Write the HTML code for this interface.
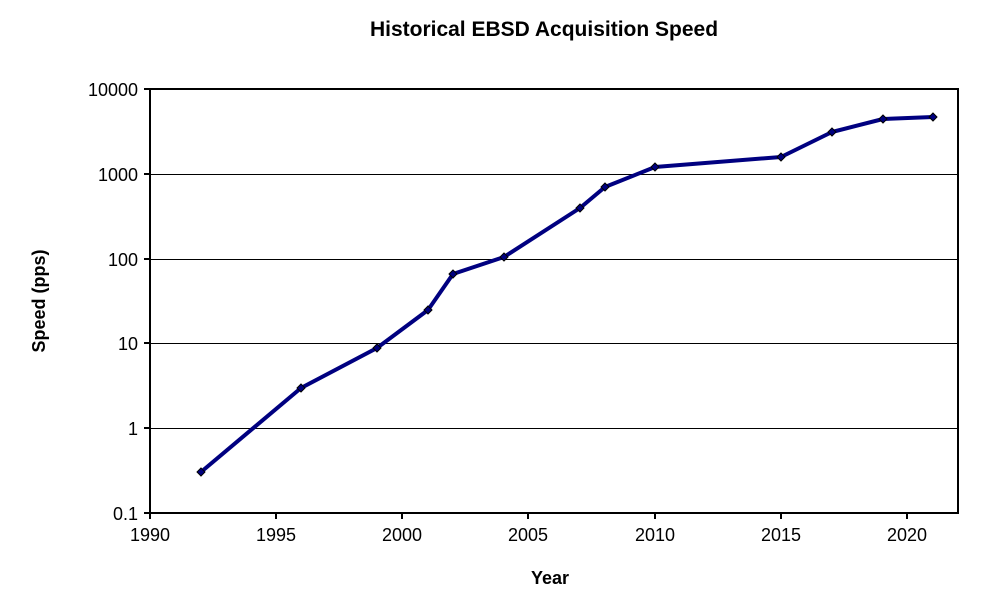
<!DOCTYPE html><html><head><style>body{margin:0;background:#fff}</style></head><body>
<svg width="987" height="601" xmlns="http://www.w3.org/2000/svg" font-family="Liberation Sans, Arial, sans-serif">
<rect width="987" height="601" fill="#fff"/>
<text x="544" y="36" text-anchor="middle" font-size="21" font-weight="bold">Historical EBSD Acquisition Speed</text>
<g stroke="#000" stroke-width="1" shape-rendering="crispEdges">
<line x1="150" y1="174.5" x2="958" y2="174.5"/><line x1="150" y1="259.5" x2="958" y2="259.5"/>
<line x1="150" y1="343.5" x2="958" y2="343.5"/><line x1="150" y1="428.5" x2="958" y2="428.5"/>
</g>
<rect x="150" y="89" width="808" height="424" fill="none" stroke="#000" stroke-width="2" shape-rendering="crispEdges"/>
<g stroke="#000" stroke-width="2" shape-rendering="crispEdges">
<line x1="144" y1="89" x2="150" y2="89"/><line x1="144" y1="174" x2="150" y2="174"/><line x1="144" y1="259" x2="150" y2="259"/><line x1="144" y1="343" x2="150" y2="343"/><line x1="144" y1="428" x2="150" y2="428"/><line x1="144" y1="513" x2="150" y2="513"/>
<line x1="150" y1="513" x2="150" y2="519"/><line x1="276" y1="513" x2="276" y2="519"/><line x1="402" y1="513" x2="402" y2="519"/><line x1="528" y1="513" x2="528" y2="519"/><line x1="655" y1="513" x2="655" y2="519"/><line x1="781" y1="513" x2="781" y2="519"/><line x1="907" y1="513" x2="907" y2="519"/>
</g>
<g font-size="18" text-anchor="end">
<text x="138" y="96">10000</text><text x="138" y="181">1000</text><text x="138" y="266">100</text><text x="138" y="350">10</text><text x="138" y="435">1</text><text x="138" y="520">0.1</text>
</g>
<g font-size="18" text-anchor="middle">
<text x="150" y="541">1990</text><text x="276" y="541">1995</text><text x="402" y="541">2000</text><text x="528" y="541">2005</text><text x="655" y="541">2010</text><text x="781" y="541">2015</text><text x="907" y="541">2020</text>
</g>
<text x="550" y="584" text-anchor="middle" font-size="18" font-weight="bold">Year</text>
<text transform="translate(45,301) rotate(-90)" text-anchor="middle" font-size="18" font-weight="bold">Speed (pps)</text>
<polyline fill="none" stroke="#000080" stroke-width="4" stroke-linejoin="round" points="201,472 301,388 377,348 428,310 453,274 504,257 580,208 605,187 655,167 781,157 832,132 883,119 933,117"/>
<g fill="#000080" stroke="#000" stroke-width="1">
<path d="M201,468l4,4l-4,4l-4,-4z"/><path d="M301,384l4,4l-4,4l-4,-4z"/><path d="M377,344l4,4l-4,4l-4,-4z"/><path d="M428,306l4,4l-4,4l-4,-4z"/><path d="M453,270l4,4l-4,4l-4,-4z"/><path d="M504,253l4,4l-4,4l-4,-4z"/><path d="M580,204l4,4l-4,4l-4,-4z"/><path d="M605,183l4,4l-4,4l-4,-4z"/><path d="M655,163l4,4l-4,4l-4,-4z"/><path d="M781,153l4,4l-4,4l-4,-4z"/><path d="M832,128l4,4l-4,4l-4,-4z"/><path d="M883,115l4,4l-4,4l-4,-4z"/><path d="M933,113l4,4l-4,4l-4,-4z"/>
</g>
</svg>
</body></html>
